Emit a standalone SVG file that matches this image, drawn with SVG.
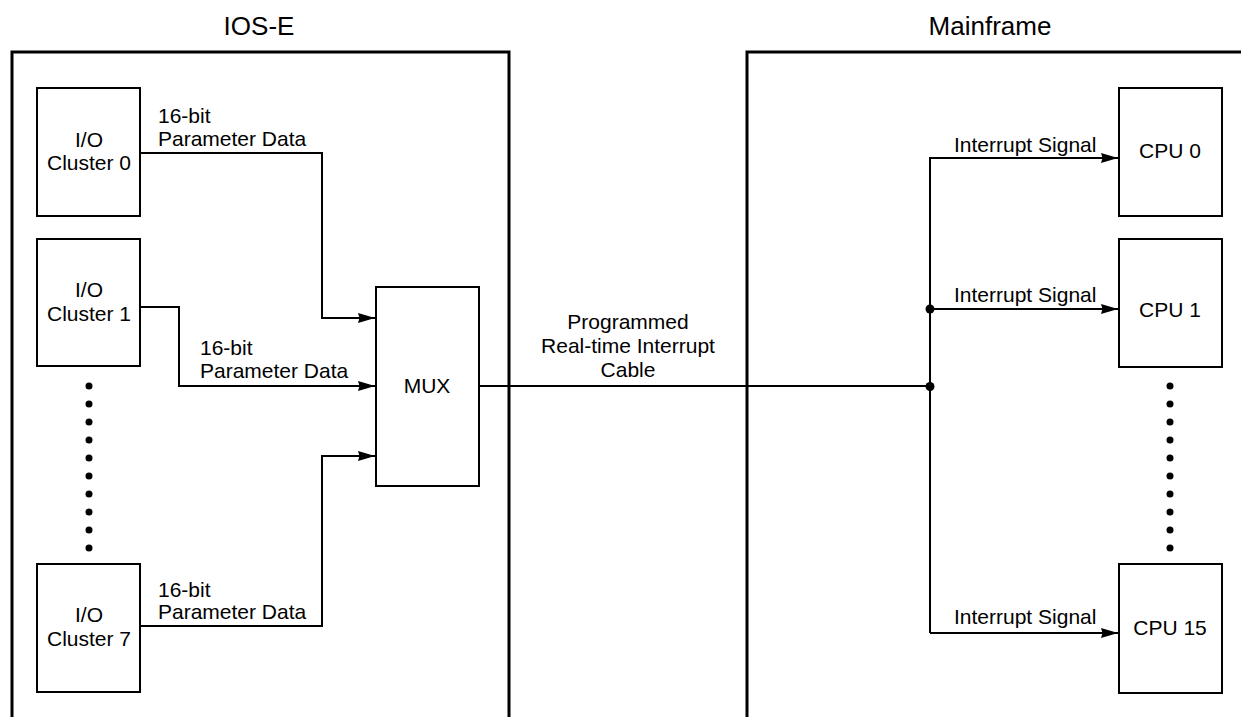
<svg xmlns="http://www.w3.org/2000/svg" width="1241" height="717" viewBox="0 0 1241 717">
<style>
text{font-family:"Liberation Sans",Arial,sans-serif;fill:#000}
.t{font-size:26px;text-anchor:middle}
.n{font-size:21px;text-anchor:middle}
.l{font-size:21px}
.frame{fill:none;stroke:#000;stroke-width:3}
.box{fill:#fff;stroke:#000;stroke-width:2}
.w{fill:none;stroke:#000;stroke-width:2}
.d{fill:#000}
</style>
<defs>
<marker id="ah" markerWidth="17" markerHeight="11" refX="17" refY="5.5" orient="auto" markerUnits="userSpaceOnUse">
<path d="M0,0.5 L17,5.5 L0,10.5 L1.5,5.5 Z" fill="#000"/>
</marker>
</defs>
<g id="frames">
<text class="t" x="259" y="35">IOS-E</text>
<path class="frame" d="M12,717 V52 H509 V717"/>
<text class="t" x="990" y="35">Mainframe</text>
<path class="frame" d="M747,717 V52 H1241"/>
</g>
<g id="connectors">
<path class="w" d="M140,153 H322 V318 H375" marker-end="url(#ah)"/>
<path class="w" d="M140,307 H179 V386 H375" marker-end="url(#ah)"/>
<path class="w" d="M140,626 H322 V456 H375" marker-end="url(#ah)"/>
<path class="w" d="M479,386 H930"/>
<path class="w" d="M930,633 V158 H1118" marker-end="url(#ah)"/>
<path class="w" d="M930,309 H1118" marker-end="url(#ah)"/>
<path class="w" d="M930,633 H1118" marker-end="url(#ah)"/>
<circle class="d" cx="930" cy="309" r="4.5"/>
<circle class="d" cx="930" cy="386.5" r="4.5"/>
<text class="l" x="158" y="123">16-bit</text>
<text class="l" x="158" y="146">Parameter Data</text>
<text class="l" x="200" y="355">16-bit</text>
<text class="l" x="200" y="378">Parameter Data</text>
<text class="l" x="158" y="597">16-bit</text>
<text class="l" x="158" y="619">Parameter Data</text>
<text class="n" x="628" y="329">Programmed</text>
<text class="n" x="628" y="353">Real-time Interrupt</text>
<text class="n" x="628" y="377">Cable</text>
<text class="l" x="954" y="152">Interrupt Signal</text>
<text class="l" x="954" y="302">Interrupt Signal</text>
<text class="l" x="954" y="624">Interrupt Signal</text>
</g>
<g id="cluster0">
<rect class="box" x="37" y="88" width="103" height="128"/>
<text class="n" x="89" y="147">I/O</text>
<text class="n" x="89" y="170">Cluster 0</text>
</g>
<g id="cluster1">
<rect class="box" x="37" y="239" width="103" height="127"/>
<text class="n" x="89" y="297">I/O</text>
<text class="n" x="89" y="321">Cluster 1</text>
</g>
<g id="cluster-dots">
<circle class="d" cx="89" cy="386" r="3.5"/><circle class="d" cx="89" cy="404" r="3.5"/><circle class="d" cx="89" cy="422" r="3.5"/><circle class="d" cx="89" cy="440" r="3.5"/><circle class="d" cx="89" cy="458" r="3.5"/><circle class="d" cx="89" cy="476" r="3.5"/><circle class="d" cx="89" cy="494" r="3.5"/><circle class="d" cx="89" cy="512" r="3.5"/><circle class="d" cx="89" cy="530" r="3.5"/><circle class="d" cx="89" cy="548" r="3.5"/>
</g>
<g id="cluster7">
<rect class="box" x="37" y="564" width="103" height="128"/>
<text class="n" x="89" y="622">I/O</text>
<text class="n" x="89" y="646">Cluster 7</text>
</g>
<g id="mux">
<rect class="box" x="376" y="287" width="103" height="199"/>
<text class="n" x="427" y="393">MUX</text>
</g>
<g id="cpu0">
<rect class="box" x="1119" y="88" width="103" height="128"/>
<text class="n" x="1170" y="158">CPU 0</text>
</g>
<g id="cpu1">
<rect class="box" x="1119" y="239" width="103" height="128"/>
<text class="n" x="1170" y="317">CPU 1</text>
</g>
<g id="cpu-dots">
<circle class="d" cx="1170" cy="386" r="3.5"/><circle class="d" cx="1170" cy="404" r="3.5"/><circle class="d" cx="1170" cy="422" r="3.5"/><circle class="d" cx="1170" cy="440" r="3.5"/><circle class="d" cx="1170" cy="458" r="3.5"/><circle class="d" cx="1170" cy="476" r="3.5"/><circle class="d" cx="1170" cy="494" r="3.5"/><circle class="d" cx="1170" cy="512" r="3.5"/><circle class="d" cx="1170" cy="530" r="3.5"/><circle class="d" cx="1170" cy="548" r="3.5"/>
</g>
<g id="cpu15">
<rect class="box" x="1119" y="564" width="103" height="129"/>
<text class="n" x="1170" y="635">CPU 15</text>
</g>
</svg>
